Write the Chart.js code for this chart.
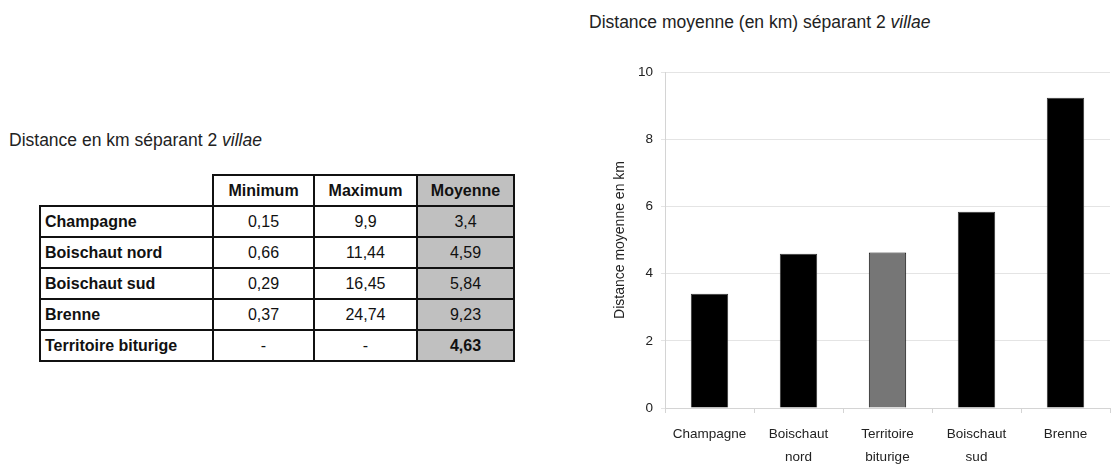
<!DOCTYPE html>
<html lang="fr">
<head>
<meta charset="utf-8">
<script src="https://cdn.jsdelivr.net/npm/chart.js@4/dist/chart.umd.min.js"></script>
<style>
    html, body { margin: 0; padding: 0; background: #fff; }
    body { width: 1111px; height: 465px; position: relative; overflow: hidden;
           font-family: "Liberation Sans", Arial, sans-serif; color: #222; }
    .title { position: absolute; font-size: 17.5px; white-space: nowrap; line-height: 20px; }
    #table-title { left: 9px; top: 130px; }
    #chart-title { left: 589px; top: 12px; }

    #villae-table { position: absolute; left: 39px; top: 174px; border-collapse: collapse;
                    table-layout: fixed; font-size: 16px; color: #111; }
    #villae-table td, #villae-table th { border: 2px solid #111; height: 29px; padding: 0 4px;
                    text-align: center; font-weight: normal; }
    #villae-table th { font-weight: bold; }
    #villae-table td.label { text-align: left; font-weight: bold; }
    #villae-table th.empty { border: none; }
    #villae-table .moy { background: #c0c0c0; }
    #villae-table .strong { font-weight: bold; }

    #chart-box { position: absolute; left: 580px; top: 40px; width: 531px; height: 425px; }
</style>
</head>
<body>

<div class="title" id="table-title">Distance en km séparant 2 <i>villae</i></div>
<table id="villae-table">
    <colgroup>
        <col style="width:173px"><col style="width:101px"><col style="width:103px"><col style="width:97px">
    </colgroup>
    <thead>
        <tr><th class="empty"></th><th>Minimum</th><th>Maximum</th><th class="moy">Moyenne</th></tr>
    </thead>
    <tbody id="villae-tbody"></tbody>
</table>

<div class="title" id="chart-title">Distance moyenne (en km) séparant 2 <i>villae</i></div>
<div id="chart-box"><canvas id="distance-chart"></canvas></div>

<script>
    // Table data (as printed, French decimal commas)
    const tableRows = ['Champagne', 'Boischaut nord', 'Boischaut sud', 'Brenne', 'Territoire biturige'];
    const tableMin = ['0,15', '0,66', '0,29', '0,37', '-'];
    const tableMax = ['9,9', '11,44', '16,45', '24,74', '-'];
    const tableMoy = ['3,4', '4,59', '5,84', '9,23', '4,63'];

    // Chart data
    const categories = [['Champagne'], ['Boischaut', 'nord'], ['Territoire', 'biturige'], ['Boischaut', 'sud'], ['Brenne']];
    const meanDistance = [3.4, 4.59, 4.63, 5.84, 9.23];
    const barColors = ['#000000', '#000000', '#767676', '#000000', '#000000'];
    const yTicks = [0, 2, 4, 6, 8, 10];

    const tbody = document.getElementById('villae-tbody');
    tableRows.forEach((name, i) => {
        const last = i === tableRows.length - 1;
        tbody.insertAdjacentHTML('beforeend', `
            <tr>
                <td class="label">${name}</td>
                <td>${tableMin[i]}</td>
                <td>${tableMax[i]}</td>
                <td class="moy${last ? ' strong' : ''}">${tableMoy[i]}</td>
            </tr>
        `);
    });

    const chartFont = "'Liberation Sans', Arial, sans-serif";

    new Chart(document.getElementById('distance-chart'), {
        type: 'bar',
        data: {
            labels: categories,
            datasets: [{
                data: meanDistance,
                backgroundColor: barColors,
                borderColor: barColors.map(c => c === '#000000' ? '#333333' : '#111111'),
                borderWidth: 1,
                barPercentage: 0.42,
                categoryPercentage: 1
            }]
        },
        options: {
            responsive: true,
            maintainAspectRatio: false,
            animation: false,
            layout: { padding: { top: 32, right: 1, left: 0, bottom: 0 } },
            plugins: {
                legend: { display: false },
                tooltip: { enabled: false }
            },
            scales: {
                x: {
                    grid: { drawOnChartArea: false, drawTicks: true, tickLength: 5, color: '#d4d4d4' },
                    border: { color: '#d4d4d4' },
                    ticks: {
                        color: '#222',
                        padding: 10,
                        maxRotation: 0,
                        autoSkip: false,
                        font: { family: chartFont, size: 13.5, lineHeight: 1.7 }
                    },
                    afterFit: (s) => { s.height = 57; }
                },
                y: {
                    min: 0,
                    max: 10,
                    afterBuildTicks: (s) => { s.ticks = yTicks.map(v => ({ value: v })); },
                    grid: { color: '#e4e4e4', tickLength: 4 },
                    border: { color: '#d4d4d4' },
                    ticks: {
                        color: '#222',
                        padding: 8,
                        font: { family: chartFont, size: 13.5 }
                    },
                    title: {
                        display: true,
                        text: 'Distance moyenne en km',
                        color: '#222',
                        padding: { top: 32, bottom: 0 },
                        font: { family: chartFont, size: 14 }
                    },
                    afterFit: (s) => { s.width = 85; }
                }
            }
        }
    });
</script>
</body>
</html>
